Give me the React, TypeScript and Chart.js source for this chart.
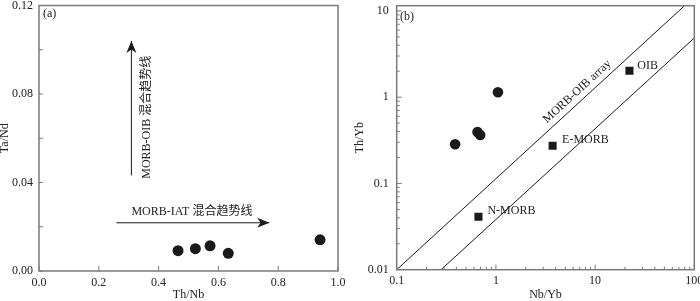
import React, { useEffect, useRef } from "react";
import { Chart, registerables } from "chart.js";

Chart.register(...registerables);

const FONT = "'Liberation Serif', 'Noto Sans CJK SC', serif";
const FRAME = "#7a7a7a";
const INK = "#1a1a1a";
const TEXT = "#222222";

// ---------- Panel (a): Th/Nb vs Ta/Nd ----------
const aThNb = [0.465, 0.523, 0.572, 0.633, 0.94];
const aTaNd = [0.0092, 0.0101, 0.0114, 0.008, 0.0141];
const aXTicks = [0, 0.2, 0.4, 0.6, 0.8, 1.0];
const aYTicks = [0, 0.04, 0.08, 0.12];
const aYMinor = [0.02, 0.06, 0.1];
// arrows: [x0, y0] -> [x1, y1]
const aArrowOIB = [[0.309, 0.0432], [0.309, 0.104]];
const aArrowIAT = [[0.259, 0.0218], [0.77, 0.0218]];
// labels
const aLabelText = ["(a)", "MORB-IAT 混合趋势线", "MORB-OIB 混合趋势线"];
const aLabelX = [0.013, 0.309, 0.36];
const aLabelY = [0.1164, 0.0268, 0.0695];

// ---------- Panel (b): Nb/Yb vs Th/Yb ----------
const bSampleNbYb = [0.388, 0.652, 0.694, 1.048];
const bSampleThYb = [0.285, 0.394, 0.364, 1.14];
const bRefNames = ["N-MORB", "E-MORB", "OIB"];
const bRefNbYb = [0.667, 3.73, 22.2];
const bRefThYb = [0.041, 0.273, 2.03];
const bUpperX = [0.1, 100];
const bUpperY = [0.01, 14.6];
const bLowerX = [0.28, 100];
const bLowerY = [0.01, 4.86];
const bXTicks = [0.1, 1, 10, 100];
const bXTickLabels = ["0.1", "1", "10", "100"];
const bYTicks = [0.01, 0.1, 1, 10];
const bYTickLabels = ["0.01", "0.1", "1", "10"];
const bRefLabelX = [0.822, 4.65, 26.6];
const bRefLabelY = [0.0485, 0.319, 2.29];
const bPanelLabel = "(b)";
const bPanelLabelPos = [0.108, 8.48];
const bArrayLabel = "MORB-OIB array";
const bArrayLabelPos = [6.6, 1.16];

const pts = (xs: number[], ys: number[]) => xs.map((x, i) => ({ x, y: ys[i] }));

function arrowHead(ctx: CanvasRenderingContext2D, x1: number, y1: number, x2: number, y2: number, len: number, half: number) {
  const a = Math.atan2(y2 - y1, x2 - x1);
  ctx.save();
  ctx.translate(x2, y2);
  ctx.rotate(a);
  ctx.beginPath();
  ctx.moveTo(0, 0);
  ctx.lineTo(-len, -half);
  ctx.lineTo(-len * 0.72, 0);
  ctx.lineTo(-len, half);
  ctx.closePath();
  ctx.fill();
  ctx.restore();
}

const tickFont = { family: FONT, size: 12 };
const titleFont = { family: FONT, size: 12, lineHeight: 1 };

function configA(): any {
  const decor = {
    id: "decorA",
    afterDatasetsDraw(chart: any) {
      const { ctx, chartArea: ca, scales } = chart;
      const xs = scales.x, ys = scales.y;
      ctx.save();
      ctx.strokeStyle = FRAME;
      ctx.lineWidth = 1.5;
      ctx.strokeRect(ca.left, ca.top, ca.right - ca.left, ca.bottom - ca.top);
      ctx.lineWidth = 1;
      ctx.beginPath();
      aXTicks.forEach((v) => {
        const px = xs.getPixelForValue(v);
        ctx.moveTo(px, ca.bottom);
        ctx.lineTo(px, ca.bottom - 5);
      });
      [...aYTicks, ...aYMinor].forEach((v) => {
        const py = ys.getPixelForValue(v);
        ctx.moveTo(ca.left, py);
        ctx.lineTo(ca.left + 4, py);
      });
      ctx.stroke();
      // arrow heads
      ctx.fillStyle = INK;
      [aArrowOIB, aArrowIAT].forEach((ar) => {
        const x1 = xs.getPixelForValue(ar[0][0]), y1 = ys.getPixelForValue(ar[0][1]);
        const x2 = xs.getPixelForValue(ar[1][0]), y2 = ys.getPixelForValue(ar[1][1]);
        arrowHead(ctx, x1, y1, x2, y2, 12, 5);
      });
      // labels
      ctx.fillStyle = TEXT;
      ctx.font = `12px ${FONT}`;
      ctx.textBaseline = "middle";
      aLabelText.forEach((t, i) => {
        const px = xs.getPixelForValue(aLabelX[i]);
        const py = ys.getPixelForValue(aLabelY[i]);
        if (i === 2) {
          ctx.save();
          ctx.translate(px, py);
          ctx.rotate(-Math.PI / 2);
          ctx.textAlign = "center";
          ctx.fillText(t, 0, 0);
          ctx.restore();
        } else {
          ctx.textAlign = "left";
          ctx.fillText(t, px, py);
        }
      });
      ctx.restore();
    },
  };
  return {
    type: "scatter",
    data: {
      datasets: [
        {
          label: "samples",
          data: pts(aThNb, aTaNd),
          pointStyle: "circle",
          pointRadius: 5.5,
          backgroundColor: INK,
          borderColor: INK,
          borderWidth: 0,
        },
        {
          label: "OIB arrow",
          data: aArrowOIB.map((p) => ({ x: p[0], y: p[1] })),
          showLine: true,
          pointRadius: 0,
          borderColor: INK,
          borderWidth: 1,
        },
        {
          label: "IAT arrow",
          data: aArrowIAT.map((p) => ({ x: p[0], y: p[1] })),
          showLine: true,
          pointRadius: 0,
          borderColor: INK,
          borderWidth: 1,
        },
      ],
    },
    options: {
      responsive: false,
      animation: false,
      devicePixelRatio: 1,
      layout: { padding: { top: 5, right: 12, left: 0, bottom: 0 } },
      plugins: { legend: { display: false }, tooltip: { enabled: false } },
      scales: {
        x: {
          type: "linear",
          min: 0,
          max: 1,
          afterBuildTicks: (s: any) => { s.ticks = aXTicks.map((v) => ({ value: v })); },
          afterFit: (s: any) => { s.height = 30; s.paddingLeft = 0; s.paddingRight = 0; },
          grid: { display: false, drawTicks: false },
          border: { display: false },
          ticks: { font: tickFont, color: TEXT, padding: 5, maxRotation: 0, autoSkip: false, callback: (v: number) => Number(v).toFixed(1) },
          title: { display: true, text: "Th/Nb", font: titleFont, color: TEXT, padding: { top: 0, bottom: 0 } },
        },
        y: {
          type: "linear",
          min: 0,
          max: 0.12,
          afterBuildTicks: (s: any) => { s.ticks = aYTicks.map((v) => ({ value: v })); },
          afterFit: (s: any) => { s.width = 39; s.paddingTop = 0; s.paddingBottom = 0; },
          grid: { display: false, drawTicks: false },
          border: { display: false },
          ticks: { font: tickFont, color: TEXT, padding: 6, autoSkip: false, callback: (v: number) => Number(v).toFixed(2) },
          title: { display: true, text: "Ta/Nd", font: titleFont, color: TEXT, padding: { top: -1, bottom: 0 } },
        },
      },
    },
    plugins: [decor],
  };
}

function configB(): any {
  const decor = {
    id: "decorB",
    afterDatasetsDraw(chart: any) {
      const { ctx, chartArea: ca, scales } = chart;
      const xs = scales.x, ys = scales.y;
      ctx.save();
      ctx.strokeStyle = FRAME;
      ctx.lineWidth = 1.5;
      ctx.strokeRect(ca.left, ca.top, ca.right - ca.left, ca.bottom - ca.top);
      ctx.lineWidth = 1;
      ctx.beginPath();
      for (let e = -1; e <= 2; e++) {
        for (let k = 1; k <= 9; k++) {
          const v = k * Math.pow(10, e);
          if (v > 100 + 1e-9) continue;
          const px = xs.getPixelForValue(v);
          const len = k === 1 ? 5 : 3;
          ctx.moveTo(px, ca.bottom);
          ctx.lineTo(px, ca.bottom - len);
        }
      }
      for (let e = -2; e <= 1; e++) {
        for (let k = 1; k <= 9; k++) {
          const v = k * Math.pow(10, e);
          if (v > ys.max) continue;
          const py = ys.getPixelForValue(v);
          const len = k === 1 ? 5 : 3;
          ctx.moveTo(ca.left, py);
          ctx.lineTo(ca.left + len, py);
        }
      }
      ctx.stroke();
      ctx.fillStyle = TEXT;
      ctx.font = `12px ${FONT}`;
      ctx.textBaseline = "middle";
      ctx.textAlign = "left";
      bRefNames.forEach((t, i) => {
        ctx.fillText(t, xs.getPixelForValue(bRefLabelX[i]), ys.getPixelForValue(bRefLabelY[i]));
      });
      ctx.fillText(bPanelLabel, xs.getPixelForValue(bPanelLabelPos[0]), ys.getPixelForValue(bPanelLabelPos[1]));
      // rotated array label, aligned with upper line
      const lx1 = xs.getPixelForValue(bUpperX[0]), ly1 = ys.getPixelForValue(bUpperY[0]);
      const lx2 = xs.getPixelForValue(bUpperX[1]), ly2 = ys.getPixelForValue(bUpperY[1]);
      const ang = Math.atan2(ly2 - ly1, lx2 - lx1);
      ctx.save();
      ctx.translate(xs.getPixelForValue(bArrayLabelPos[0]), ys.getPixelForValue(bArrayLabelPos[1]));
      ctx.rotate(ang);
      ctx.textAlign = "center";
      ctx.fillText(bArrayLabel, 0, 0);
      ctx.restore();
      ctx.restore();
    },
  };
  return {
    type: "scatter",
    data: {
      datasets: [
        {
          label: "upper",
          data: pts(bUpperX, bUpperY),
          showLine: true,
          pointRadius: 0,
          borderColor: INK,
          borderWidth: 1,
        },
        {
          label: "lower",
          data: pts(bLowerX, bLowerY),
          showLine: true,
          pointRadius: 0,
          borderColor: INK,
          borderWidth: 1,
        },
        {
          label: "samples",
          data: pts(bSampleNbYb, bSampleThYb),
          pointStyle: "circle",
          pointRadius: 5.3,
          backgroundColor: INK,
          borderColor: INK,
          borderWidth: 0,
        },
        {
          label: "reference",
          data: pts(bRefNbYb, bRefThYb),
          pointStyle: "rect",
          pointRadius: 5.7,
          backgroundColor: INK,
          borderColor: INK,
          borderWidth: 0,
        },
      ],
    },
    options: {
      responsive: false,
      animation: false,
      devicePixelRatio: 1,
      layout: { padding: { top: 1, right: 5.7, left: 0, bottom: 0 } },
      plugins: { legend: { display: false }, tooltip: { enabled: false } },
      scales: {
        x: {
          type: "logarithmic",
          min: 0.1,
          max: 100,
          afterBuildTicks: (s: any) => { s.ticks = bXTicks.map((v) => ({ value: v })); },
          afterFit: (s: any) => { s.height = 31.3; s.paddingLeft = 0; s.paddingRight = 0; },
          grid: { display: false, drawTicks: false },
          border: { display: false },
          ticks: { font: tickFont, color: TEXT, padding: 4, maxRotation: 0, autoSkip: false, callback: (_v: number, i: number) => bXTickLabels[i] },
          title: { display: true, text: "Nb/Yb", font: titleFont, color: TEXT, padding: { top: 0, bottom: 0 } },
        },
        y: {
          type: "logarithmic",
          min: 0.01,
          max: 11.5,
          afterBuildTicks: (s: any) => { s.ticks = bYTicks.map((v) => ({ value: v })); },
          afterFit: (s: any) => { s.width = 46.7; s.paddingTop = 0; s.paddingBottom = 0; },
          grid: { display: false, drawTicks: false },
          border: { display: false },
          ticks: { font: tickFont, color: TEXT, padding: 8, autoSkip: false, callback: (_v: number, i: number) => bYTickLabels[i] },
          title: { display: true, text: "Th/Yb", font: titleFont, color: TEXT, padding: { top: 4, bottom: 0 } },
        },
      },
    },
    plugins: [decor],
  };
}

function Panel({ make, left }: { make: () => any; left: number }) {
  const ref = useRef<HTMLCanvasElement | null>(null);
  useEffect(() => {
    if (!ref.current) return;
    const chart = new Chart(ref.current, make());
    return () => chart.destroy();
  }, [make]);
  return (
    <canvas
      ref={ref}
      width={350}
      height={301}
      style={{ position: "absolute", left, top: 0, width: 350, height: 301, display: "block" }}
    />
  );
}

export default function App() {
  return (
    <div style={{ position: "absolute", left: 0, top: 0, width: 700, height: 301, background: "#ffffff", overflow: "hidden" }}>
      <Panel make={configA} left={0} />
      <Panel make={configB} left={350} />
    </div>
  );
}
